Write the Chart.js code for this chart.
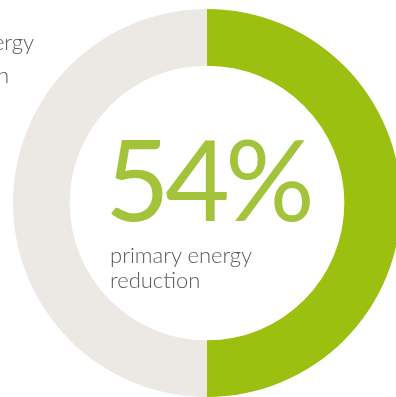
<!DOCTYPE html>
<html>
<head>
<meta charset="utf-8">
<script src="https://cdn.jsdelivr.net/npm/chart.js@4"></script>
<style>
  html, body { margin: 0; padding: 0; background: #ffffff; overflow: hidden; width: 396px; height: 397px; }
  #wrap { position: absolute; left: 13px; top: 9px; width: 388px; height: 388px; }
  .txt { position: absolute; font-family: "Lato", sans-serif; font-weight: 300; white-space: nowrap; }
  #big { left: 105px; top: 122px; font-size: 112px; line-height: 1; color: #a3c43a; font-weight: 400; letter-spacing: -5px; }
  #sub { left: 110px; top: 242px; font-size: 22px; line-height: 25px; color: #5a5a5a; }
  .side { font-size: 22px; line-height: 33px; color: #5a5a5a; text-align: right; }
  #side1 { right: 362px; top: 25px; }
  #side2 { right: 387px; top: 58px; }
</style>
</head>
<body>
<div id="wrap"><canvas id="donut" width="388" height="388"></canvas></div>
<div class="txt side" id="side1">energy</div>
<div class="txt side" id="side2">reduction</div>
<div class="txt" id="big">54%</div>
<div class="txt" id="sub">primary energy<br>reduction</div>
<script>
  // segmentos tal como se ven en la imagen
  const segmentLabels = ["reducción", "resto"];
  const segmentValues = [50, 50];
  const segmentColors = ["#9bc010", "#ece9e4"];

  var ctx = document.getElementById("donut").getContext("2d");
  var donut = new Chart(ctx, {
    type: "doughnut",
    data: {
      labels: segmentLabels,
      datasets: [
        {
          data: segmentValues,
          backgroundColor: segmentColors,
          borderWidth: 0,
        },
      ],
    },
    options: {
      responsive: false,
      animation: false,
      cutout: "70.8%",
      layout: { padding: 0 },
      plugins: {
        legend: { display: false },
        tooltip: { enabled: false },
      },
    },
  });
</script>
</body>
</html>
